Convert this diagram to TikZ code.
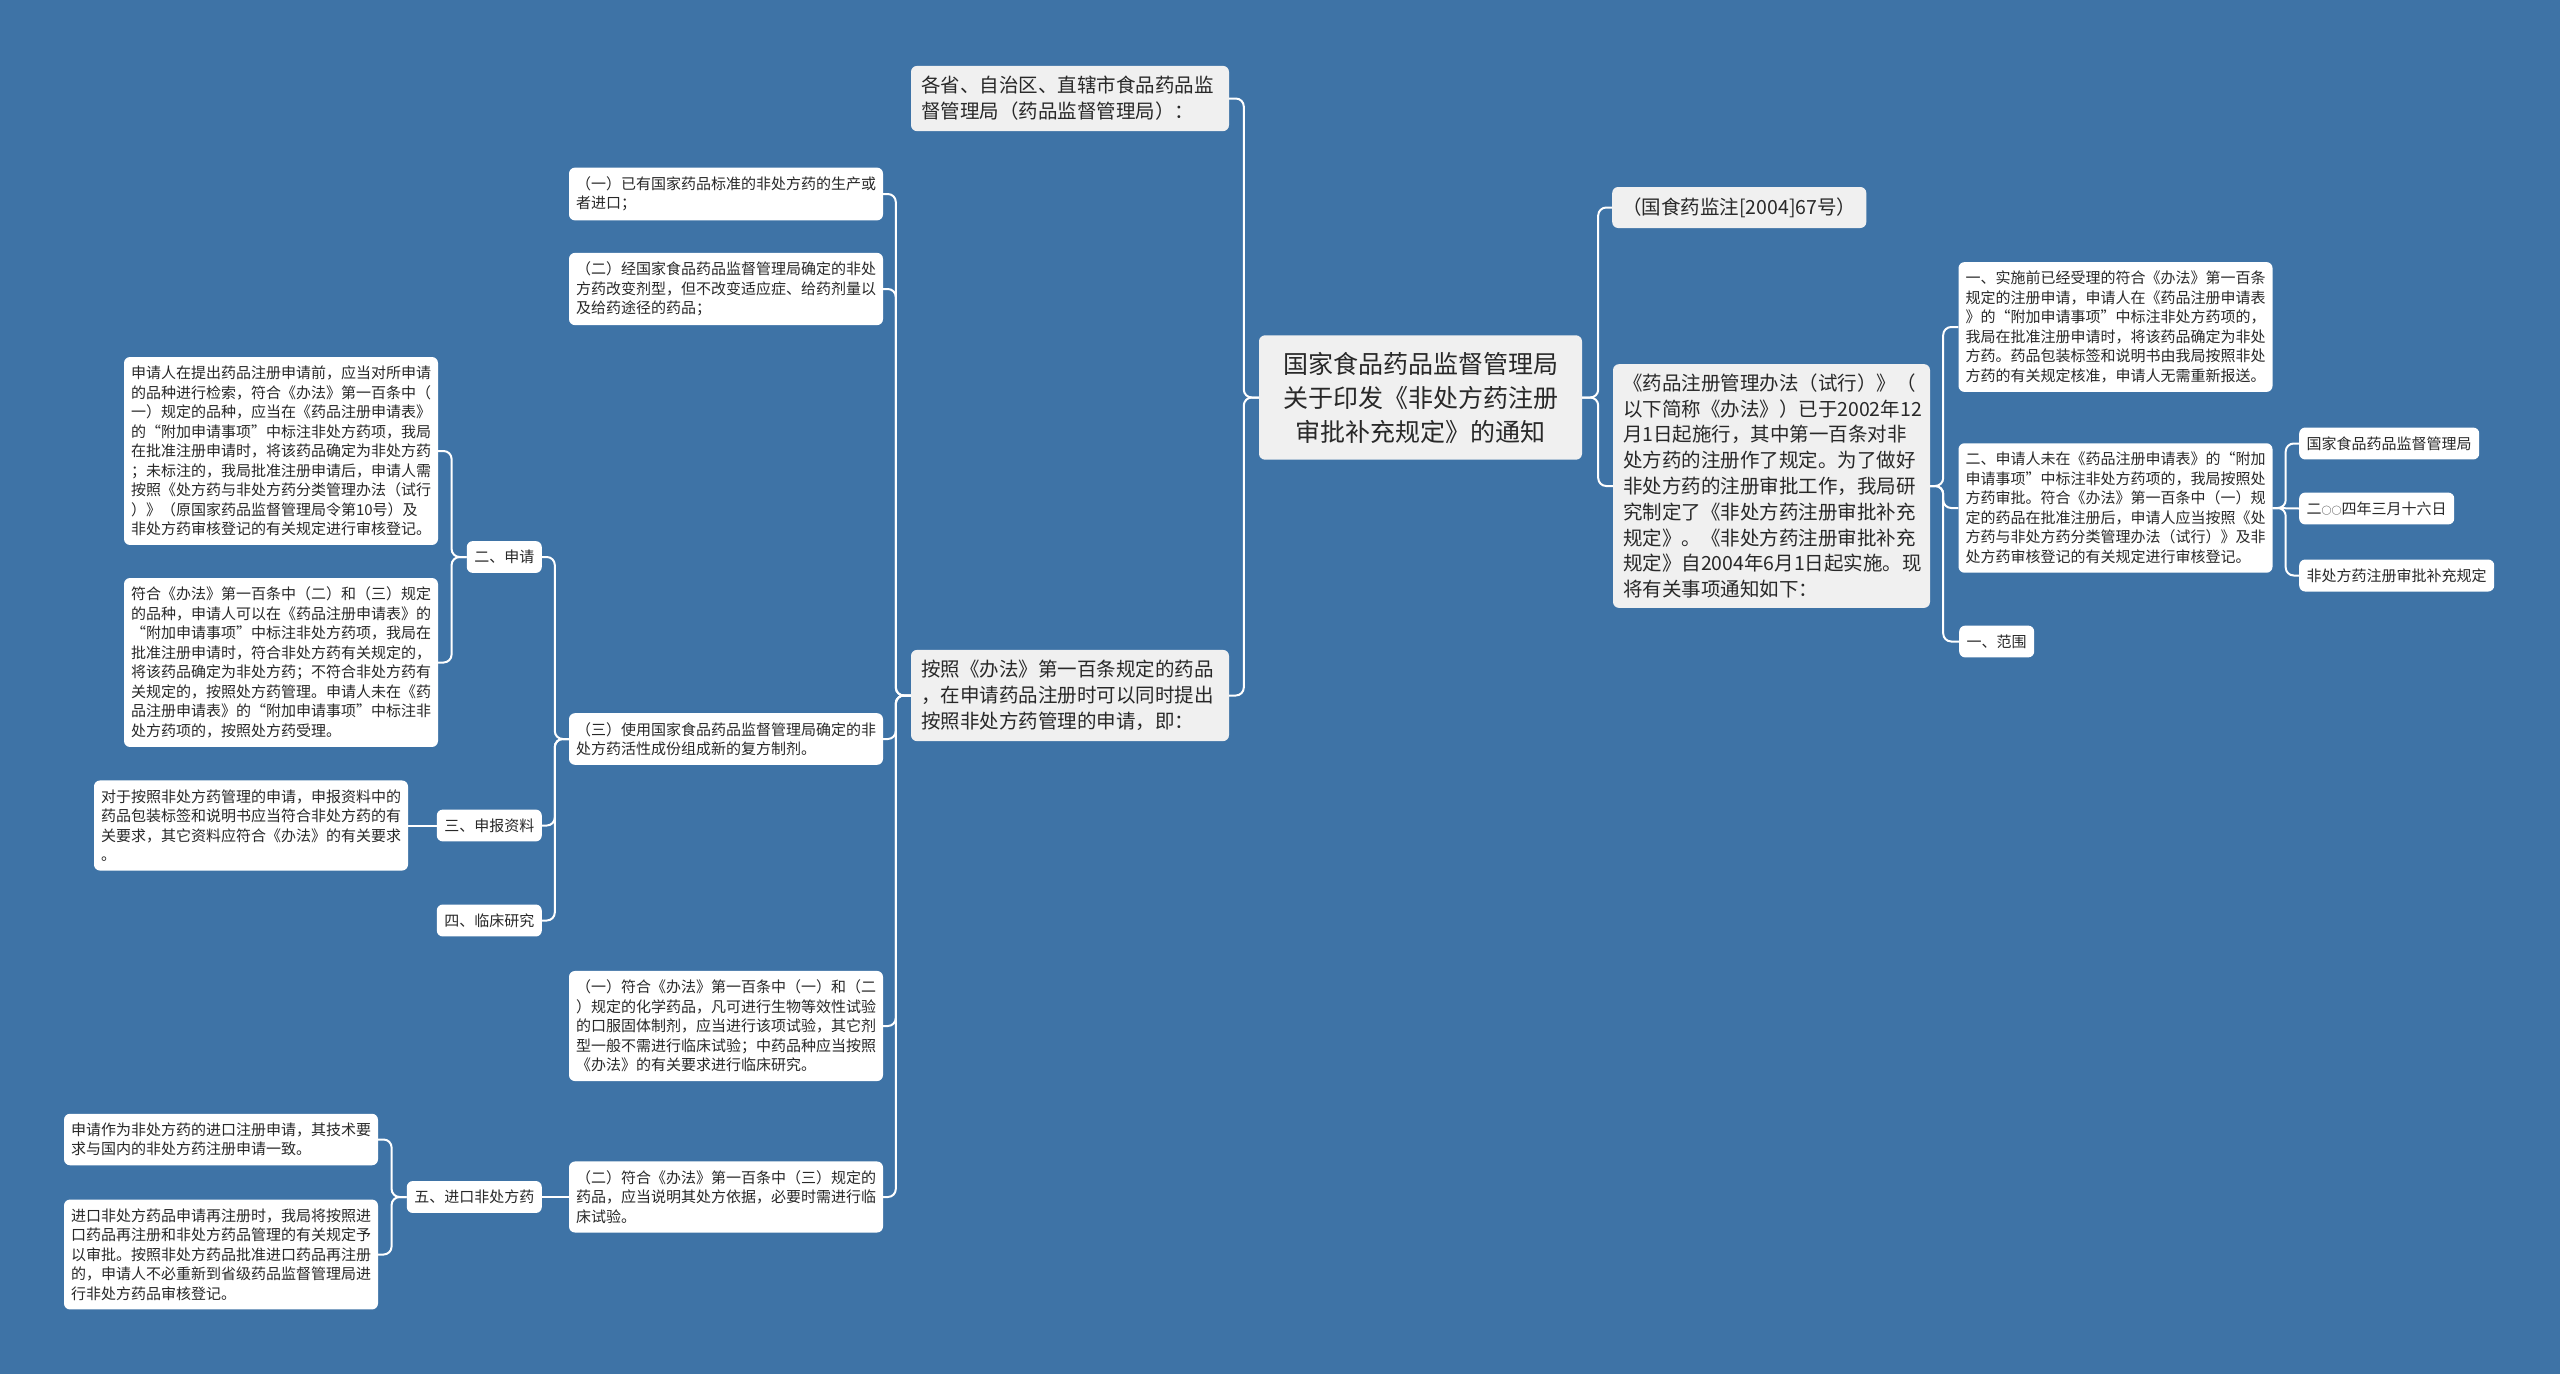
\documentclass[tikz,border=0pt]{standalone}
\usepackage{fontspec}
\setmainfont{Noto Sans CJK SC}
\definecolor{bg}{RGB}{62,115,166}
\definecolor{lgray}{RGB}{240,240,240}
\definecolor{txt}{RGB}{40,40,40}
\begin{document}
\begin{tikzpicture}[x=1pt,y=-1pt,
  conn/.style={draw=white, line width=2pt, rounded corners=8pt},
  box/.style={rounded corners=6pt, fill=white, text=txt, inner xsep=7pt, inner ysep=9pt, align=left, font=\fontsize{15}{19.5}\selectfont},
  small/.style={box, text width=300pt},
  lab/.style={box, inner xsep=7.5pt},
  lone/.style={box, fill=lgray, font=\fontsize{19.5}{25.8}\selectfont, inner xsep=10pt, inner ysep=10.5pt},
  rootbox/.style={box, fill=lgray, font=\fontsize{25}{34}\selectfont, text width=275pt, inner xsep=24pt, inner ysep=16.5pt, align=center}]
\fill[bg] (0,0) rectangle (2560,1374);
\useasboundingbox (0,0) rectangle (2560,1374);

% root
\node[rootbox] (root) at (1420.5,397.5) {国家食品药品监督管理局\\关于印发《非处方药注册\\审批补充规定》的通知};

% left level 1
\node[lone, text width=298pt] (gs) at (1070,98.5) {各省、自治区、直辖市食品药品监\\督管理局（药品监督管理局）：};
\node[lone, text width=298pt] (az) at (1070,695.5) {按照《办法》第一百条规定的药品\\，在申请药品注册时可以同时提出\\按照非处方药管理的申请，即：};

% children of az
\node[small] (n1) at (726,194) {（一）已有国家药品标准的非处方药的生产或\\者进口；};
\node[small] (n2) at (726,289) {（二）经国家食品药品监督管理局确定的非处\\方药改变剂型，但不改变适应症、给药剂量以\\及给药途径的药品；};
\node[small] (n3) at (726,739) {（三）使用国家食品药品监督管理局确定的非\\处方药活性成份组成新的复方制剂。};
\node[small] (c1) at (726,1026) {（一）符合《办法》第一百条中（一）和（二\\）规定的化学药品，凡可进行生物等效性试验\\的口服固体制剂，应当进行该项试验，其它剂\\型一般不需进行临床试验；中药品种应当按照\\《办法》的有关要求进行临床研究。};
\node[small] (c2) at (726,1197) {（二）符合《办法》第一百条中（三）规定的\\药品，应当说明其处方依据，必要时需进行临\\床试验。};

% children of n3
\node[lab, anchor=east] (sq) at (542,557) {二、申请};
\node[lab, anchor=east] (sb) at (542,825.5) {三、申报资料};
\node[lab, anchor=east] (lc) at (542,920.5) {四、临床研究};

% children of sq
\node[small] (l1) at (281,451) {申请人在提出药品注册申请前，应当对所申请\\的品种进行检索，符合《办法》第一百条中（\\一）规定的品种，应当在《药品注册申请表》\\的“附加申请事项”中标注非处方药项，我局\\在批准注册申请时，将该药品确定为非处方药\\；未标注的，我局批准注册申请后，申请人需\\按照《处方药与非处方药分类管理办法（试行\\）》（原国家药品监督管理局令第10号）及\\非处方药审核登记的有关规定进行审核登记。};
\node[small] (l2) at (281,662.5) {符合《办法》第一百条中（二）和（三）规定\\的品种，申请人可以在《药品注册申请表》的\\“附加申请事项”中标注非处方药项，我局在\\批准注册申请时，符合非处方药有关规定的，\\将该药品确定为非处方药；不符合非处方药有\\关规定的，按照处方药管理。申请人未在《药\\品注册申请表》的“附加申请事项”中标注非\\处方药项的，按照处方药受理。};

% child of sb
\node[small] (dy) at (251,825.5) {对于按照非处方药管理的申请，申报资料中的\\药品包装标签和说明书应当符合非处方药的有\\关要求，其它资料应符合《办法》的有关要求\\。};

% child of c2
\node[lab, anchor=east] (jk) at (542,1197) {五、进口非处方药};
\node[small] (sz) at (221,1139.5) {申请作为非处方药的进口注册申请，其技术要\\求与国内的非处方药注册申请一致。};
\node[small] (jz) at (221,1254.5) {进口非处方药品申请再注册时，我局将按照进\\口药品再注册和非处方药品管理的有关规定予\\以审批。按照非处方药品批准进口药品再注册\\的，申请人不必重新到省级药品监督管理局进\\行非处方药品审核登记。};

% right side
\node[lone, anchor=west] (gy) at (1612,207.5) {（国食药监注[2004]67号）};
\node[lone, text width=297pt, inner xsep=10pt, inner ysep=9.5pt] (bf) at (1771.5,486) {《药品注册管理办法（试行）》（\\以下简称《办法》）已于2002年12\\月1日起施行，其中第一百条对非\\处方药的注册作了规定。为了做好\\非处方药的注册审批工作，我局研\\究制定了《非处方药注册审批补充\\规定》。《非处方药注册审批补充\\规定》自2004年6月1日起实施。现\\将有关事项通知如下：};

\node[small] (s1) at (2115.5,327) {一、实施前已经受理的符合《办法》第一百条\\规定的注册申请，申请人在《药品注册申请表\\》的“附加申请事项”中标注非处方药项的，\\我局在批准注册申请时，将该药品确定为非处\\方药。药品包装标签和说明书由我局按照非处\\方药的有关规定核准，申请人无需重新报送。};
\node[small] (s2) at (2115.5,508) {二、申请人未在《药品注册申请表》的“附加\\申请事项”中标注非处方药项的，我局按照处\\方药审批。符合《办法》第一百条中（一）规\\定的药品在批准注册后，申请人应当按照《处\\方药与非处方药分类管理办法（试行）》及非\\处方药审核登记的有关规定进行审核登记。};
\node[lab, anchor=west] (fw) at (1959,641.5) {一、范围};

\node[lab, anchor=west] (r1) at (2299,443.5) {国家食品药品监督管理局};
\node[lab, anchor=west] (r2) at (2299,508.5) {二{\fontsize{10}{10}\selectfont ○○}四年三月十六日};
\node[lab, anchor=west] (r3) at (2299,575.5) {非处方药注册审批补充规定};

% connectors
\foreach \c in {gs,az} \draw[conn] (root.west) -- ++(-15,0) |- (\c.east);
\foreach \c in {n1,n2,n3,c1,c2} \draw[conn] (az.west) -- ++(-15,0) |- (\c.east);
\foreach \c in {sq,sb,lc} \draw[conn] (n3.west) -- ++(-14,0) |- (\c.east);
\foreach \c in {l1,l2} \draw[conn] (sq.west) -- ++(-15,0) |- (\c.east);
\draw[conn] (sb.west) -- (dy.east);
\draw[conn] (c2.west) -- (jk.east);
\foreach \c in {sz,jz} \draw[conn] (jk.west) -- ++(-15,0) |- (\c.east);
\foreach \c in {gy,bf} \draw[conn] (root.east) -- ++(16,0) |- (\c.west);
\foreach \c in {s1,s2,fw} \draw[conn] (bf.east) -- ++(13,0) |- (\c.west);
\foreach \c in {r1,r3} \draw[conn] (s2.east) -- ++(13,0) |- (\c.west);
\draw[conn] (s2.east) -- (r2.west);
\end{tikzpicture}
\end{document}
